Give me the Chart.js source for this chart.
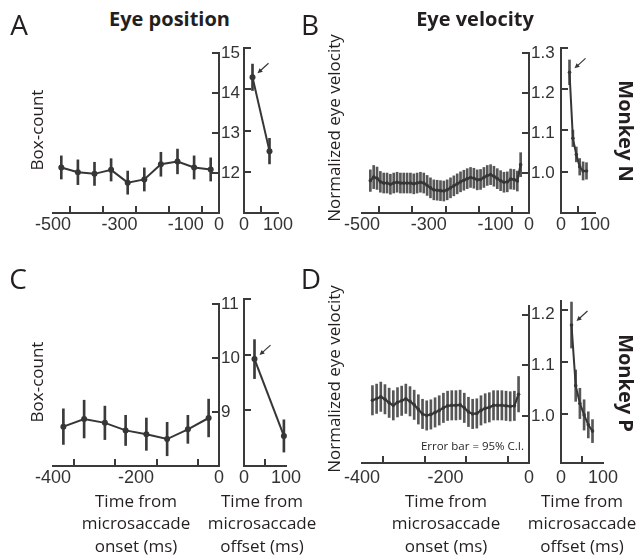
<!DOCTYPE html>
<html><head><meta charset="utf-8">
<script src="https://cdn.jsdelivr.net/npm/chart.js@4/dist/chart.umd.min.js"></script>
<style>
html,body{margin:0;padding:0;background:#fff;}
body{width:639px;height:558px;position:relative;overflow:hidden;font-family:"Open Sans",sans-serif;color:#231f20;}
.t{position:absolute;white-space:nowrap;line-height:1;}
canvas{position:absolute;}
</style></head><body>
<script>
// ---------------- DATA ----------------
// Monkey N, eye position (panel A)
const posNTimesPre  = [-475,-425,-375,-325,-275,-225,-175,-125,-75,-25];
const posNBoxPre    = [12.14,12.02,11.98,12.08,11.76,11.84,12.22,12.29,12.14,12.09];
const posNErrPre    = [0.29,0.31,0.29,0.28,0.29,0.29,0.30,0.31,0.29,0.29];
const posNTimesPost = [25,75];
const posNBoxPost   = [14.29,12.50];
const posNErrPost   = [0.32,0.31];

// Monkey P, eye position (panel C)
const posPTimesPre  = [-375,-325,-275,-225,-175,-125,-75,-25];
const posPBoxPre    = [8.73,8.87,8.80,8.66,8.59,8.50,8.68,8.89];
const posPErrPre    = [0.33,0.35,0.31,0.28,0.30,0.31,0.26,0.35];
const posPTimesPost = [25,95];
const posPBoxPost   = [9.92,8.54];
const posPErrPost   = [0.35,0.29];

// Monkey N, eye velocity (panel B)
const velNTimesPre = [-475,-465,-455,-445,-435,-425,-415,-405,-395,-385,
                      -375,-365,-355,-345,-335,-325,-315,-305,-295,-285,
                      -275,-265,-255,-245,-235,-225,-215,-205,-195,-185,
                      -175,-165,-155,-145,-135,-125,-115,-105,-95,-85,
                      -75,-65,-55,-45,-35,-25];
const velNPre = [0.981,0.990,0.987,0.978,0.975,0.975,0.972,0.975,0.977,0.975,
                 0.975,0.975,0.975,0.973,0.975,0.977,0.975,0.969,0.963,0.958,
                 0.957,0.956,0.955,0.958,0.963,0.968,0.973,0.978,0.982,0.986,
                 0.989,0.987,0.983,0.984,0.989,0.994,0.996,0.992,0.986,0.981,
                 0.977,0.978,0.985,0.984,0.980,1.021];
const velNErrPre = [0.027,0.029,0.028,0.026,0.025,0.025,0.025,0.025,0.025,0.025,
                    0.025,0.025,0.025,0.025,0.025,0.025,0.025,0.025,0.025,0.025,
                    0.025,0.025,0.025,0.025,0.025,0.025,0.025,0.025,0.025,0.025,
                    0.025,0.025,0.025,0.025,0.025,0.025,0.025,0.025,0.025,0.025,
                    0.025,0.025,0.025,0.025,0.025,0.030];
const velNTimesPost = [25,35,45,55,65,75];
const velNPost      = [1.241,1.081,1.042,1.012,1.002,1.002];
const velNErrPost   = [0.030,0.020,0.018,0.020,0.022,0.020];

// Monkey P, eye velocity (panel D)
const velPTimesPre = [-375,-365,-355,-345,-335,-325,-315,-305,-295,-285,
                      -275,-265,-255,-245,-235,-225,-215,-205,-195,-185,
                      -175,-165,-155,-145,-135,-125,-115,-105,-95,-85,
                      -75,-65,-55,-45,-35,-25];
const velPPre = [1.031,1.034,1.038,1.033,1.026,1.021,1.027,1.030,1.034,1.029,
                 1.022,1.013,1.004,1.001,1.003,1.007,1.011,1.016,1.020,1.021,
                 1.021,1.022,1.016,1.008,1.004,1.005,1.011,1.015,1.017,1.021,
                 1.021,1.021,1.020,1.019,1.020,1.043];
const velPErrPre = [0.029,0.029,0.029,0.029,0.029,0.029,0.029,0.029,0.029,0.029,
                    0.029,0.029,0.029,0.029,0.029,0.029,0.029,0.029,0.029,0.029,
                    0.029,0.029,0.029,0.029,0.029,0.029,0.029,0.029,0.029,0.029,
                    0.029,0.029,0.029,0.029,0.029,0.035];
const velPTimesPost = [25,35,45,55,65,75];
const velPPost      = [1.171,1.055,1.021,0.999,0.980,0.968];
const velPErrPost   = [0.044,0.030,0.029,0.029,0.025,0.022];

// Ticks and tick labels
const xTicksPreN   = [-500,-400,-300,-200,-100,0];
const xLabelsPreN  = [-500,-300,-100,0];
const xTicksPreP   = [-400,-300,-200,-100,0];
const xLabelsPreP  = [-400,-200,0];
const xTicksPost   = [0,100];
const xLabelsPost  = [0,100];
const yTicksPosN   = [12,13,14,15];
const yTicksPosP   = [9,10,11];
const yTicksVelN   = [1.0,1.1,1.2,1.3];
const yTicksVelP   = [1.0,1.1,1.2];

// ---------------- STYLE ----------------
const AXIS = '#3a3a3a';
const TXT = '#333333';
const LINE = '#363636';
const ERR_POS = '#3a3a3a';
const ERR_VEL = '#575757';
const XFONT = {family:'"Liberation Sans", Arial, sans-serif', size:18};
const YFONT = {family:'"Liberation Sans", Arial, sans-serif', size:17};

function toPts(xs, ys){ return xs.map((x,i)=>({x:x, y:ys[i]})); }
function toBars(xs, ys, es){ return xs.map((x,i)=>({x:x, y:[ys[i]-es[i], ys[i]+es[i]]})); }

const arrowPlugin = {
  id: 'arrowMark',
  afterDatasetsDraw(chart, args, opts) {
    if (!opts || !opts.show) return;
    const p = chart.getDatasetMeta(0).data[0];
    const ctx = chart.ctx;
    const tipX = p.x + 5, tipY = p.y - 4;
    const tailX = p.x + 16, tailY = p.y - 14;
    const ang = Math.atan2(tipY - tailY, tipX - tailX);
    const hl = 5, hw = 2.4;
    ctx.save();
    ctx.strokeStyle = LINE; ctx.fillStyle = LINE; ctx.lineWidth = 1.2;
    ctx.beginPath(); ctx.moveTo(tailX, tailY);
    ctx.lineTo(tipX - 3*Math.cos(ang), tipY - 3*Math.sin(ang)); ctx.stroke();
    ctx.beginPath();
    ctx.moveTo(tipX, tipY);
    ctx.lineTo(tipX - hl*Math.cos(ang) + hw*Math.sin(ang), tipY - hl*Math.sin(ang) - hw*Math.cos(ang));
    ctx.lineTo(tipX - hl*Math.cos(ang) - hw*Math.sin(ang), tipY - hl*Math.sin(ang) + hw*Math.cos(ang));
    ctx.closePath(); ctx.fill();
    ctx.restore();
  }
};

function makePlot(s){
  const l=s.rect[0], t=s.rect[1], r=s.rect[2], b=s.rect[3];
  const isLeft = s.side === 'left';
  const pad = isLeft ? {left:34, top:14, right:0, bottom:0} : {left:0, top:14, right:32, bottom:0};
  const yW = isLeft ? 32 : 20;
  const xH = 38;
  const cl = isLeft ? l - pad.left : l - yW;
  const cw = isLeft ? pad.left + (r-l) + yW : yW + (r-l) + pad.right;
  const ct = t - pad.top;
  const ch = pad.top + (b-t) + xH;
  const cv = document.createElement('canvas');
  cv.width = cw; cv.height = ch;
  cv.style.left = cl+'px'; cv.style.top = ct+'px';
  cv.style.width = cw+'px'; cv.style.height = ch+'px';
  document.body.appendChild(cv);
  const gridOpts = {drawOnChartArea:false, drawTicks:true, tickLength:-7, tickWidth:2, tickColor:AXIS, color:AXIS, lineWidth:2};
  const borderOpts = {display:true, color:AXIS, width:2};
  new Chart(cv, {
    type:'line',
    data:{datasets:[
      {type:'line', data:toPts(s.xs, s.ys), borderColor:LINE, borderWidth:s.lw, pointRadius:s.pr, pointHoverRadius:s.pr,
       pointBackgroundColor:LINE, pointBorderWidth:0, tension:0, clip:false, order:0},
      {type:'bar', data:toBars(s.xs, s.ys, s.es), backgroundColor:s.errColor, borderWidth:0,
       barThickness:s.ew, maxBarThickness:s.ew, clip:false, order:1}
    ]},
    options:{
      responsive:false, animation:false, events:[],
      layout:{padding:pad},
      plugins:{legend:{display:false}, tooltip:{enabled:false}, arrowMark:{show:!!s.arrow}},
      scales:{
        x:{type:'linear', position:'bottom', min:s.xMin, max:s.xMax, offset:false, bounds:'data',
           afterBuildTicks: sc => { sc.ticks = s.xTicks.map(v=>({value:v})); },
           afterFit: sc => { sc.height = xH; },
           ticks:{autoSkip:false, maxRotation:0, minRotation:0, padding:s.xPad, color:TXT, font:XFONT,
                  callback: v => s.xLabels.includes(v) ? String(v) : ''},
           grid:gridOpts, border:borderOpts},
        y:{type:'linear', position: isLeft ? 'right' : 'left', min:s.yMin, max:s.yMax, bounds:'data',
           afterBuildTicks: sc => { sc.ticks = s.yTicks.map(v=>({value:v})); },
           afterFit: sc => { sc.width = yW; },
           ticks:{display:isLeft, autoSkip:false, padding:9, color:TXT, font:YFONT,
                  callback: v => s.yFmt(v)},
           grid:gridOpts, border:borderOpts}
      }
    },
    plugins:[arrowPlugin]
  });
}

const intFmt = v => String(Math.round(v));
const decFmt = v => v.toFixed(1);

// Panel A
makePlot({rect:[53,48,219,213], side:'left', xMin:-500, xMax:0, xTicks:xTicksPreN, xLabels:xLabelsPreN, xPad:8,
  yMin:11, yMax:15, yTicks:yTicksPosN, yFmt:intFmt, xs:posNTimesPre, ys:posNBoxPre, es:posNErrPre,
  lw:2, pr:3, ew:2, errColor:ERR_POS});
makePlot({rect:[244,48,278,213], side:'right', xMin:0, xMax:100, xTicks:xTicksPost, xLabels:xLabelsPost, xPad:8,
  yMin:11, yMax:15, yTicks:yTicksPosN, yFmt:intFmt, xs:posNTimesPost, ys:posNBoxPost, es:posNErrPost,
  lw:2, pr:3, ew:2, errColor:ERR_POS, arrow:true});
// Panel B
makePlot({rect:[362,48,529,213], side:'left', xMin:-500, xMax:0, xTicks:xTicksPreN, xLabels:xLabelsPreN, xPad:8,
  yMin:0.9, yMax:1.3, yTicks:yTicksVelN, yFmt:decFmt, xs:velNTimesPre, ys:velNPre, es:velNErrPre,
  lw:2.2, pr:1.8, ew:2, errColor:ERR_VEL});
makePlot({rect:[561,48,595,213], side:'right', xMin:0, xMax:100, xTicks:xTicksPost, xLabels:xLabelsPost, xPad:8,
  yMin:0.9, yMax:1.3, yTicks:yTicksVelN, yFmt:decFmt, xs:velNTimesPost, ys:velNPost, es:velNErrPost,
  lw:2, pr:1.8, ew:2, errColor:ERR_VEL, arrow:true});
// Panel C
makePlot({rect:[53,299,219,466], side:'left', xMin:-400, xMax:0, xTicks:xTicksPreP, xLabels:xLabelsPreP, xPad:8,
  yMin:8, yMax:11, yTicks:yTicksPosP, yFmt:intFmt, xs:posPTimesPre, ys:posPBoxPre, es:posPErrPre,
  lw:2, pr:3, ew:2, errColor:ERR_POS});
makePlot({rect:[244,299,286,466], side:'right', xMin:0, xMax:100, xTicks:xTicksPost, xLabels:xLabelsPost, xPad:8,
  yMin:8, yMax:11, yTicks:yTicksPosP, yFmt:intFmt, xs:posPTimesPost, ys:posPBoxPost, es:posPErrPost,
  lw:2, pr:3, ew:2, errColor:ERR_POS, arrow:true});
// Panel D
makePlot({rect:[362,301,529,463], side:'left', xMin:-400, xMax:0, xTicks:xTicksPreP, xLabels:xLabelsPreP, xPad:11,
  yMin:0.907, yMax:1.217, yTicks:yTicksVelP, yFmt:decFmt, xs:velPTimesPre, ys:velPPre, es:velPErrPre,
  lw:2.2, pr:1.8, ew:2, errColor:ERR_VEL});
makePlot({rect:[561,301,603,463], side:'right', xMin:0, xMax:100, xTicks:xTicksPost, xLabels:xLabelsPost, xPad:11,
  yMin:0.907, yMax:1.217, yTicks:yTicksVelP, yFmt:decFmt, xs:velPTimesPost, ys:velPPost, es:velPErrPost,
  lw:2, pr:1.8, ew:2, errColor:ERR_VEL, arrow:true});

// ---------------- TEXT ----------------
function addText(txt, cx, cy, o){
  const d = document.createElement('div');
  d.className = 't';
  d.textContent = txt;
  d.style.fontSize = o.size + 'px';
  d.style.fontWeight = o.weight || 400;
  d.style.color = o.color || '#231f20';
  d.style.left = cx + 'px';
  d.style.top = (cy - 0.031*o.size) + 'px';
  d.style.transform = 'translate(-50%,-50%)' + (o.rot ? ' rotate(' + o.rot + 'deg)' : '');
  document.body.appendChild(d);
}
function addMulti(lines, cx, capY, size, lh){
  const d = document.createElement('div');
  d.className = 't';
  d.style.fontSize = size + 'px';
  d.style.lineHeight = lh + 'px';
  d.style.textAlign = 'center';
  d.style.color = '#231f20';
  d.style.left = cx + 'px';
  d.style.top = (capY - lh/2 - 0.031*size) + 'px';
  d.style.transform = 'translateX(-50%)';
  lines.forEach((ln,i) => { if (i) d.appendChild(document.createElement('br')); d.appendChild(document.createTextNode(ln)); });
  document.body.appendChild(d);
}

addText('A', 19, 25, {size:28});
addText('B', 310, 25, {size:28});
addText('C', 18, 279, {size:28});
addText('D', 311, 279, {size:28});
addText('Eye position', 169.5, 19.5, {size:20, weight:700});
addText('Eye velocity', 475, 19.5, {size:20, weight:700});
addText('Box-count', 36, 131, {size:17, rot:-90});
addText('Box-count', 36, 383, {size:17, rot:-90});
addText('Normalized eye velocity', 333, 129, {size:17, rot:-90});
addText('Normalized eye velocity', 333, 380, {size:17, rot:-90});
addText('Monkey N', 626, 132, {size:20, weight:700, rot:90});
addText('Monkey P', 626, 384, {size:20, weight:700, rot:90});
addText('Error bar = 95% C.I.', 472.5, 446, {size:11.5});
addMulti(['Time from','microsaccade','onset (ms)'], 136, 501.7, 17, 22.6);
addMulti(['Time from','microsaccade','offset (ms)'], 262, 501.7, 17, 22.6);
addMulti(['Time from','microsaccade','onset (ms)'], 446, 501.7, 17, 22.6);
addMulti(['Time from','microsaccade','offset (ms)'], 582, 501.7, 17, 22.6);
</script>
</body></html>
